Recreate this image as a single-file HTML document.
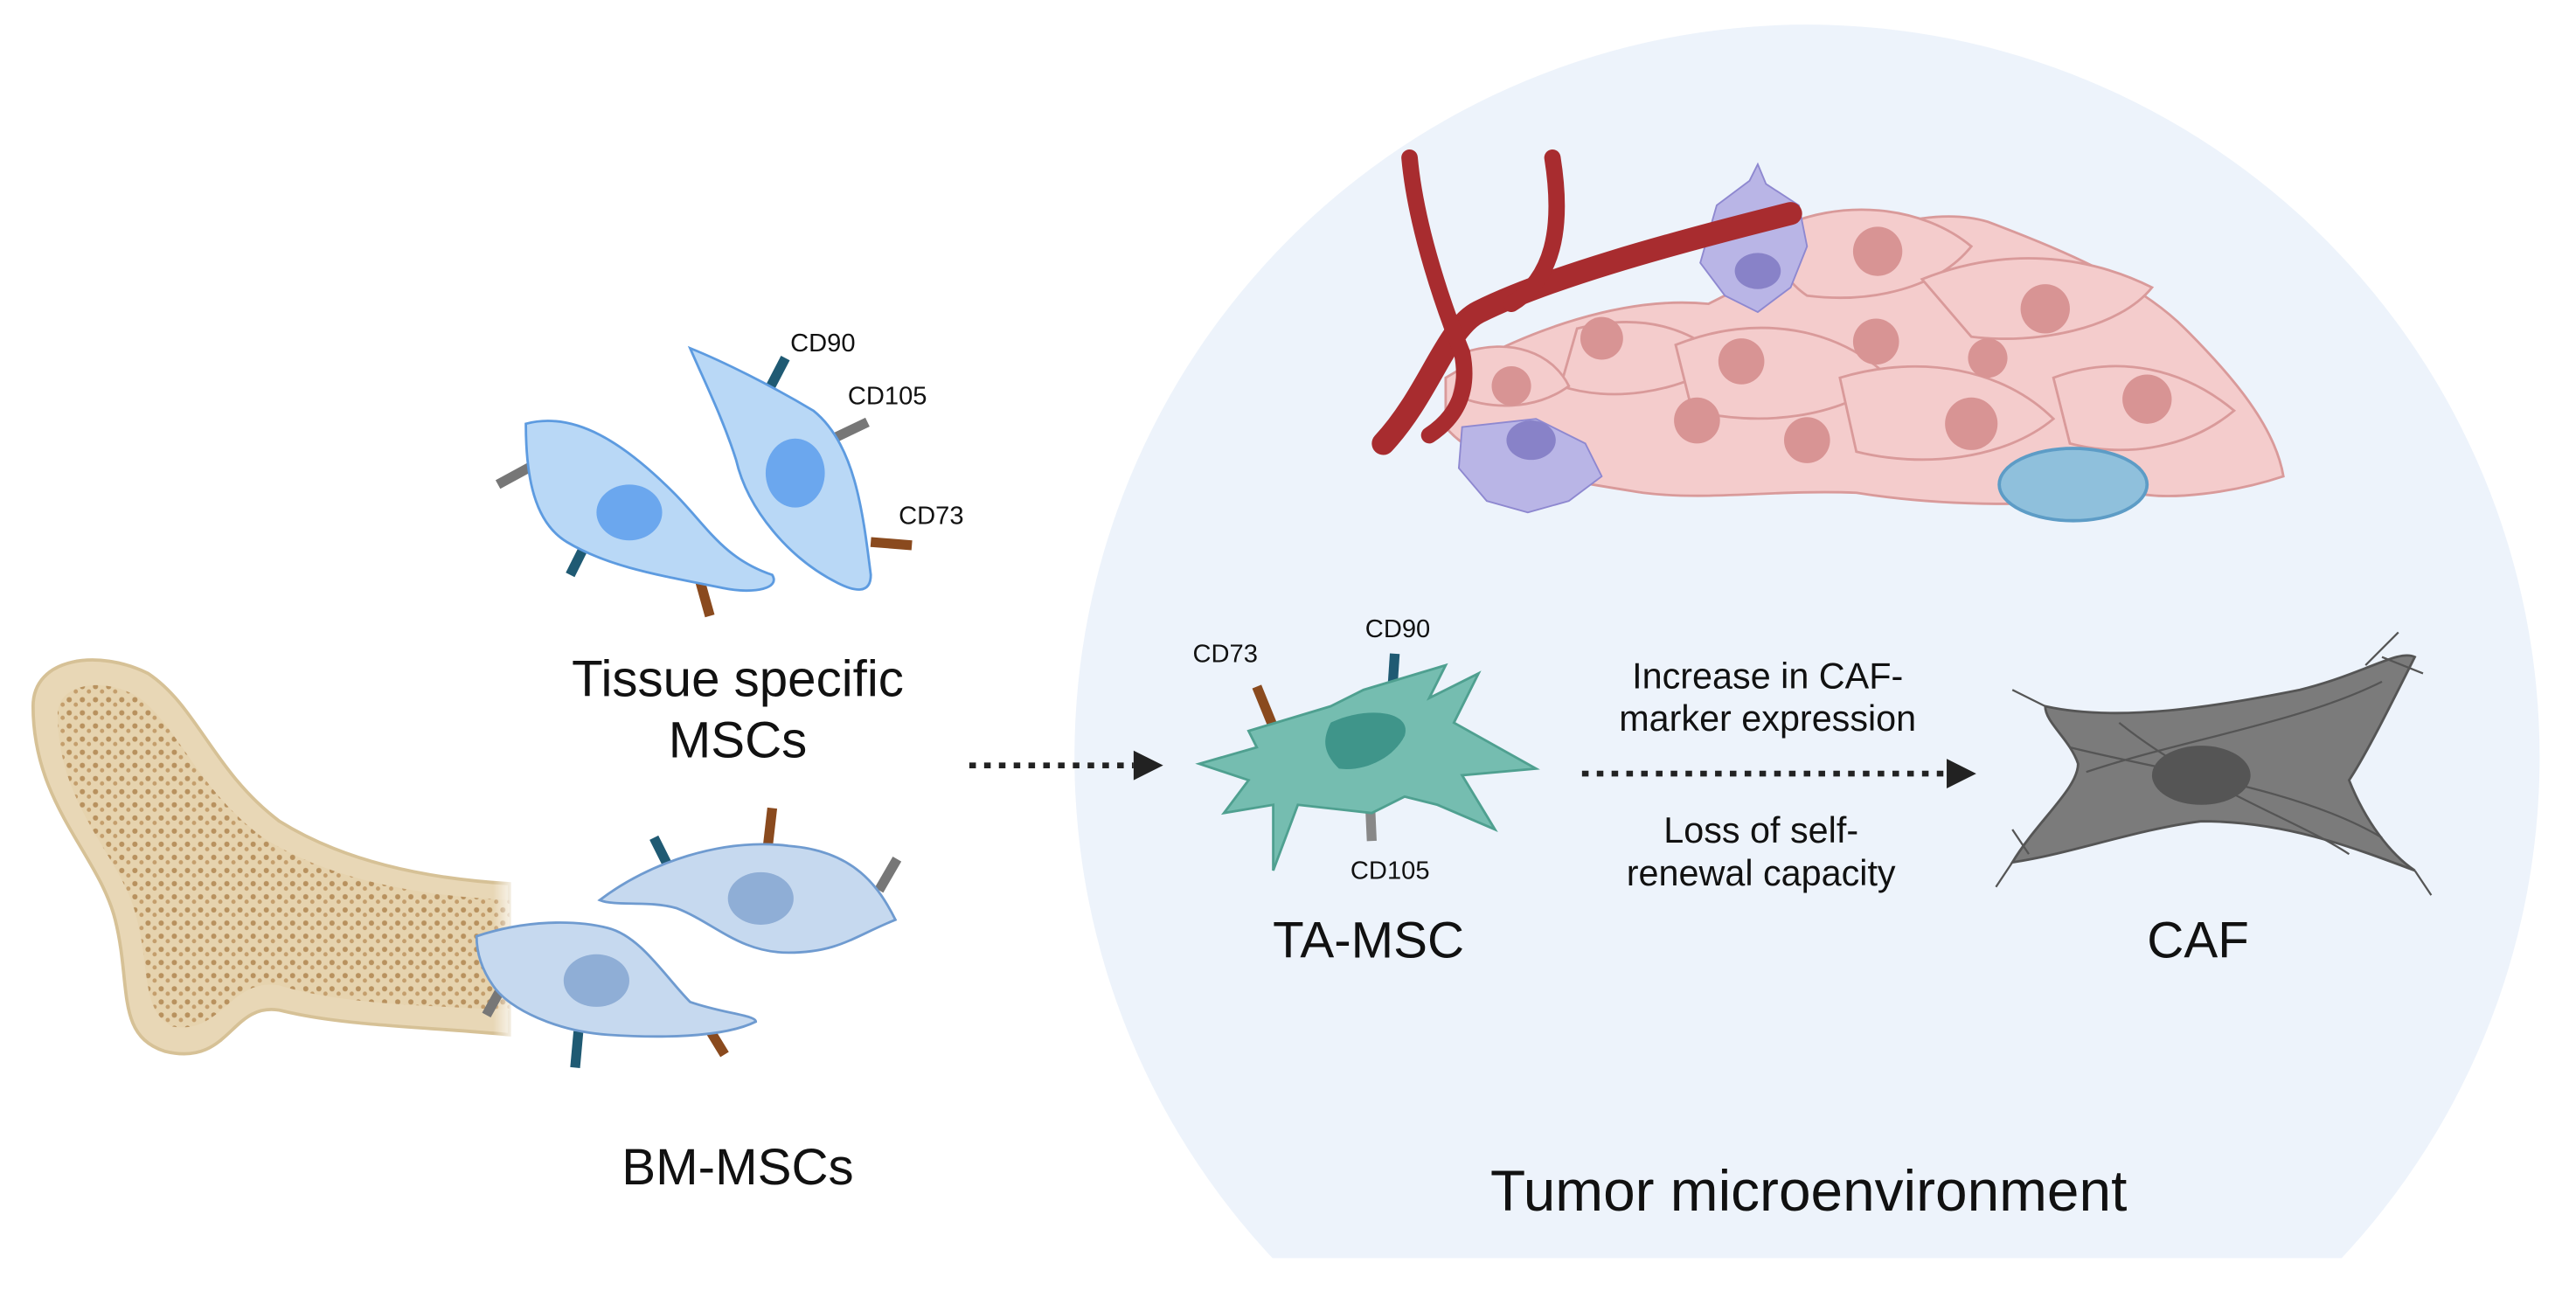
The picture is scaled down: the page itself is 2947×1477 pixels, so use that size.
<!DOCTYPE html>
<html><head><meta charset="utf-8"><style>
html,body{margin:0;padding:0;background:#fff;width:2947px;height:1477px;overflow:hidden}
svg{display:block}
text{font-family:"Liberation Sans",sans-serif;fill:#111}
</style></head><body>
<svg width="2947" height="1477" viewBox="0 0 1568 786" xmlns="http://www.w3.org/2000/svg">
<defs>
<clipPath id="cc"><rect x="0" y="0" width="1568" height="766"/></clipPath>
<pattern id="sp" width="8" height="8" patternUnits="userSpaceOnUse"><rect width="8" height="8" fill="#e6d3ae"/><circle cx="2" cy="2" r="1.6" fill="#b8915e"/><circle cx="6" cy="5" r="1.3" fill="#c49e6c"/></pattern>
<linearGradient id="bf" x1="0" x2="1"><stop offset="0.8" stop-color="#fff" stop-opacity="0"/><stop offset="1" stop-color="#fff" stop-opacity="1"/></linearGradient>
</defs>
<circle cx="1100" cy="461" r="446" fill="#edf3fb" clip-path="url(#cc)"/>
<path d="M20,430 C20,400 60,395 90,410 C120,430 130,470 170,500 C210,525 260,535 310,538 L310,630 C260,625 210,625 170,615 C140,610 140,650 100,640 C70,630 80,600 70,560 C60,520 20,490 20,430 Z" fill="#e8d7b6" stroke="#d6c196" stroke-width="2"/>
<path d="M35,435 C35,415 65,412 85,425 C110,445 120,480 160,510 C200,535 250,545 310,548 L310,615 C260,612 210,612 170,600 C140,595 135,630 105,625 C85,615 92,590 82,555 C72,520 35,490 35,435 Z" fill="url(#sp)"/>
<rect x="240" y="520" width="75" height="130" fill="url(#bf)"/>
<g stroke-width="6" stroke-linecap="butt">
<line x1="478" y1="218" x2="465" y2="243" stroke="#1f5a73"/>
<line x1="528" y1="257" x2="505" y2="268" stroke="#777"/>
<line x1="555" y1="332" x2="530" y2="330" stroke="#8a4a1e"/>
<line x1="303" y1="295" x2="325" y2="283" stroke="#777"/>
<line x1="347" y1="350" x2="357" y2="330" stroke="#1f5a73"/>
<line x1="432" y1="375" x2="425" y2="350" stroke="#8a4a1e"/>
</g>
<path d="M320,258 C350,250 380,270 410,300 C430,320 440,340 470,350 C475,358 460,362 440,358 C400,350 370,345 345,330 C325,318 320,290 320,258 Z" fill="#b9d8f6" stroke="#5d9be0" stroke-width="1.5"/>
<ellipse cx="383" cy="312" rx="20" ry="17" fill="#6ba7ee"/>
<path d="M420,212 C440,220 470,235 495,250 C520,270 525,310 530,350 C530,362 520,360 510,355 C480,340 455,310 448,280 C440,255 430,235 420,212 Z" fill="#b9d8f6" stroke="#5d9be0" stroke-width="1.5"/>
<ellipse cx="484" cy="288" rx="18" ry="21" fill="#6ba7ee"/>
<g stroke-width="6">
<line x1="470" y1="492" x2="467" y2="518" stroke="#8a4a1e"/>
<line x1="398" y1="510" x2="408" y2="530" stroke="#1f5a73"/>
<line x1="546" y1="523" x2="535" y2="542" stroke="#777"/>
<line x1="296" y1="618" x2="306" y2="600" stroke="#777"/>
<line x1="350" y1="650" x2="352" y2="628" stroke="#1f5a73"/>
<line x1="441" y1="642" x2="430" y2="624" stroke="#8a4a1e"/>
</g>
<path d="M365,548 C395,525 440,510 480,515 C520,518 535,540 545,560 C520,570 510,580 480,580 C450,580 435,562 412,553 C395,548 375,552 365,548 Z" fill="#c6d9ef" stroke="#6f9bd0" stroke-width="1.5"/>
<ellipse cx="463" cy="547" rx="20" ry="16" fill="#8faed6"/>
<path d="M290,570 C320,560 350,560 370,565 C390,570 405,595 420,610 C440,617 460,618 460,622 C440,632 400,632 370,630 C340,628 310,615 300,600 C293,590 290,580 290,570 Z" fill="#c6d9ef" stroke="#6f9bd0" stroke-width="1.5"/>
<ellipse cx="363" cy="597" rx="20" ry="16" fill="#8faed6"/>
<g fill="#f4cccc" stroke="#d99a9a" stroke-width="1.5">
<path d="M880,230 C930,200 990,180 1040,185 C1090,160 1160,120 1210,135 C1250,150 1300,170 1330,200 C1360,230 1385,260 1390,290 C1360,300 1320,305 1300,300 C1250,310 1180,308 1130,300 C1080,298 1040,305 1000,300 C950,292 900,285 880,260 Z"/>
<path d="M1080,140 C1120,120 1170,125 1200,150 C1180,175 1140,185 1100,180 C1085,170 1080,155 1080,140 Z"/>
<path d="M1170,170 C1220,150 1270,155 1310,175 C1290,200 1240,210 1200,205 Z"/>
<path d="M960,200 C1000,190 1030,200 1050,220 C1020,240 980,245 950,235 Z"/>
<path d="M1020,210 C1070,190 1120,200 1150,230 C1120,255 1070,260 1030,250 Z"/>
<path d="M1120,230 C1170,215 1220,225 1250,255 C1220,280 1170,285 1130,275 Z"/>
<path d="M1250,230 C1290,215 1330,225 1360,250 C1330,275 1290,278 1260,270 Z"/>
<path d="M890,215 C920,205 945,215 955,235 C935,250 905,250 885,240 Z"/>
</g>
<g fill="#d89494">
<circle cx="1143" cy="153" r="15"/><circle cx="1245" cy="188" r="15"/><circle cx="975" cy="206" r="13"/>
<circle cx="1060" cy="220" r="14"/><circle cx="1142" cy="208" r="14"/><circle cx="1210" cy="218" r="12"/>
<circle cx="920" cy="235" r="12"/><circle cx="1033" cy="256" r="14"/><circle cx="1100" cy="268" r="14"/>
<circle cx="1200" cy="258" r="16"/><circle cx="1307" cy="243" r="15"/>
</g>
<ellipse cx="1262" cy="295" rx="45" ry="22" fill="#8fc0dc" stroke="#5d9cc6" stroke-width="2"/>
<path d="M1045,125 L1065,110 L1070,100 L1075,112 L1095,125 L1100,150 L1090,175 L1070,190 L1050,180 L1035,160 Z" fill="#b9b5e6" stroke="#8e88d0"/>
<ellipse cx="1070" cy="165" rx="14" ry="11" fill="#8882c8"/>
<path d="M890,260 L935,255 L965,270 L975,290 L955,305 L930,312 L905,305 L888,285 Z" fill="#b9b5e6" stroke="#8e88d0"/>
<ellipse cx="932" cy="268" rx="15" ry="12" fill="#8882c8"/>
<g fill="none" stroke="#a82c2f" stroke-linecap="round">
<path d="M842,270 C870,240 880,200 900,190 C940,170 1010,150 1090,130" stroke-width="14"/>
<path d="M858,96 C862,140 880,190 890,215 C895,240 885,255 870,265" stroke-width="10"/>
<path d="M945,96 C952,140 945,170 920,185" stroke-width="10"/>
</g>
<g stroke-width="6">
<line x1="765" y1="418" x2="776" y2="445" stroke="#8a4a1e"/>
<line x1="849" y1="398" x2="847" y2="428" stroke="#1f5a73"/>
<line x1="834" y1="490" x2="835" y2="512" stroke="#888"/>
</g>
<path d="M760,445 L810,430 L830,420 L880,405 L870,425 L900,410 L885,440 L935,468 L890,472 L910,505 L875,490 L855,485 L835,495 L790,490 L775,530 L775,490 L745,495 L760,475 L730,465 L765,455 Z" fill="#75bdb0" stroke="#4fa090" stroke-width="1.5"/>
<path d="M810,440 C830,430 860,432 855,448 C848,462 830,470 815,468 C805,458 805,450 810,440 Z" fill="#3f958a"/>
<path d="M1245,430 C1290,440 1350,430 1400,420 C1440,410 1460,395 1470,400 C1455,430 1440,460 1430,475 C1440,500 1455,520 1470,530 C1430,515 1390,500 1340,500 C1300,505 1260,520 1225,525 C1240,500 1265,480 1265,465 C1260,450 1245,440 1245,430 Z" fill="#7b7b7b" stroke="#555" stroke-width="1.5"/>
<g stroke="#555" stroke-width="1.2" fill="none">
<path d="M1245,430 L1225,420 M1440,405 L1460,385 M1450,400 L1475,410 M1470,530 L1480,545 M1225,525 L1215,540 M1235,520 L1225,505"/>
<path d="M1260,455 C1320,470 1400,480 1450,510 M1270,470 C1330,450 1400,440 1450,415 M1290,440 C1340,480 1400,500 1430,520"/>
</g>
<ellipse cx="1340" cy="472" rx="30" ry="18" fill="#555"/>
<g stroke="#222" stroke-width="3.5" stroke-dasharray="4 5">
<line x1="590" y1="466" x2="690" y2="466"/>
<line x1="963" y1="471" x2="1185" y2="471"/>
</g>
<polygon points="690,457 708,466 690,475" fill="#222"/>
<polygon points="1185,462 1203,471 1185,480" fill="#222"/>
<g font-size="15.5">
<text x="481" y="214">CD90</text><text x="516" y="246">CD105</text><text x="547" y="319">CD73</text>
<text x="726" y="403">CD73</text><text x="831" y="388">CD90</text><text x="822" y="535">CD105</text>
</g>
<g font-size="31" text-anchor="middle">
<text x="449" y="424">Tissue specific</text><text x="449" y="461">MSCs</text>
<text x="449" y="721">BM-MSCs</text><text x="833" y="583">TA-MSC</text><text x="1338" y="583">CAF</text>
<text x="1101" y="737" font-size="35">Tumor microenvironment</text>
</g>
<g font-size="22" text-anchor="middle">
<text x="1076" y="419">Increase in CAF-</text><text x="1076" y="445">marker expression</text>
<text x="1072" y="513">Loss of self-</text><text x="1072" y="539">renewal capacity</text>
</g>
</svg>
</body></html>
